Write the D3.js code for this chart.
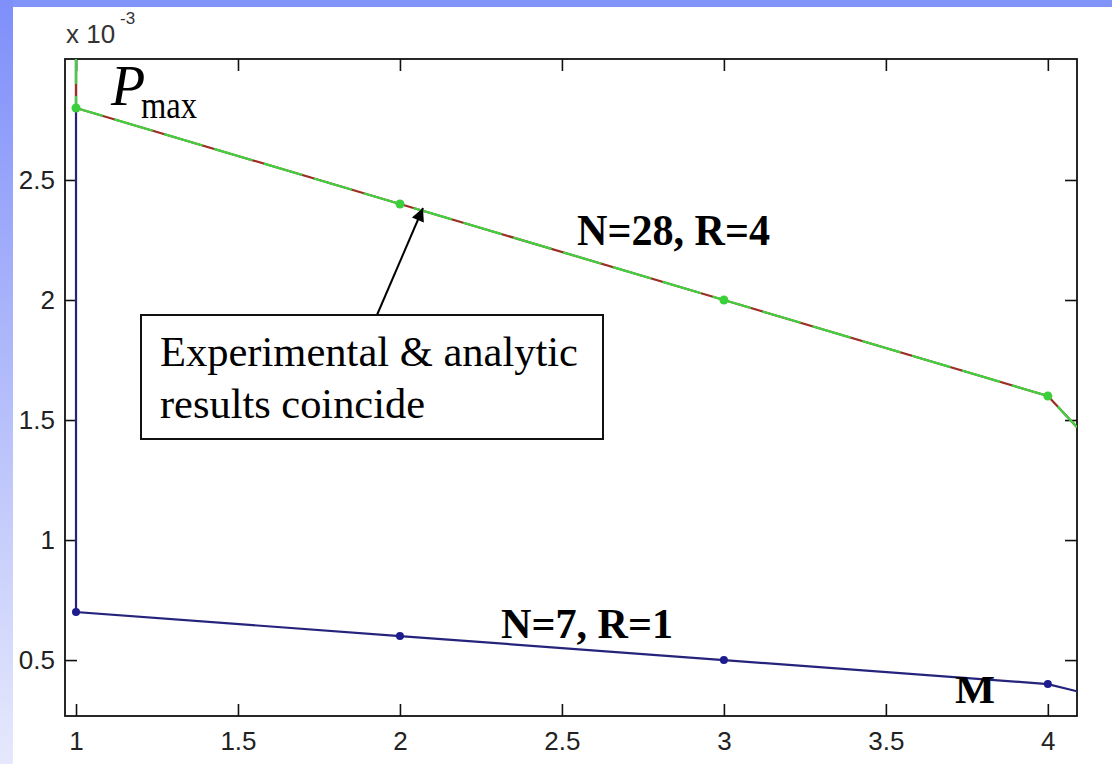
<!DOCTYPE html>
<html>
<head>
<meta charset="utf-8">
<script src="https://cdn.jsdelivr.net/npm/d3@7"></script>
<style>
  html, body { margin: 0; padding: 0; background: #fff; }
  svg { display: block; }
</style>
</head>
<body>
<div id="chart"></div>
<script>
// M values where both series were measured
const mValues = [1, 2, 3, 4];
// P_max for N=28, R=4 (experimental, analytic coincides)
const pN28 = [2.8e-3, 2.4e-3, 2.0e-3, 1.6e-3];
// P_max for N=7, R=1
const pN7 = [0.7e-3, 0.6e-3, 0.5e-3, 0.4e-3];
// where the curves leave the plot on the right edge
const tailM = 4.09;
const tailN28 = 1.47e-3;
const tailN7 = 0.37e-3;
// lead-in value at M=1 (off the top of the axes)
const leadIn = 3.5e-3;

const xTicks = [1, 1.5, 2, 2.5, 3, 3.5, 4];
const yTicks = [0.5e-3, 1e-3, 1.5e-3, 2e-3, 2.5e-3];

const width = 1112, height = 764;
const box = { left: 65, top: 59, right: 1077, bottom: 716 };

const svg = d3.select("#chart").append("svg")
    .attr("width", width)
    .attr("height", height);

const defs = svg.append("defs");
const grad = defs.append("linearGradient")
    .attr("id", "sideGrad")
    .attr("x1", 0).attr("y1", 0).attr("x2", 0).attr("y2", 1);
grad.append("stop").attr("offset", "0%").attr("stop-color", "#7e8ffa");
grad.append("stop").attr("offset", "100%").attr("stop-color", "#e6e9fc");

defs.append("clipPath").attr("id", "plotClip")
  .append("rect")
    .attr("x", box.left).attr("y", box.top)
    .attr("width", box.right - box.left)
    .attr("height", box.bottom - box.top);

defs.append("marker")
    .attr("id", "arrowHead")
    .attr("viewBox", "0 0 10 10")
    .attr("refX", 10).attr("refY", 5)
    .attr("markerWidth", 18).attr("markerHeight", 13)
    .attr("markerUnits", "userSpaceOnUse")
    .attr("orient", "auto")
  .append("path")
    .attr("d", "M0,0 L10,5 L0,10 z")
    .attr("fill", "#000");

// slide background
svg.append("rect").attr("width", width).attr("height", height).attr("fill", "#fff");
svg.append("rect").attr("width", width).attr("height", 7).attr("fill", "#8194fa");
svg.append("rect").attr("width", 13).attr("height", height).attr("fill", "url(#sideGrad)");

const x = d3.scaleLinear().domain([0.966, 4.09]).range([box.left, box.right]);
const y = d3.scaleLinear().domain([0.267e-3, 3.004e-3]).range([box.bottom, box.top]);

const tickFont = "'Liberation Sans', Arial, sans-serif";

// axes with inward ticks
const gx = svg.append("g")
    .attr("transform", `translate(0,${box.bottom})`)
    .call(d3.axisBottom(x).tickValues(xTicks).tickSize(-12).tickPadding(16)
        .tickFormat(d3.format("")));
const gy = svg.append("g")
    .attr("transform", `translate(${box.left},0)`)
    .call(d3.axisLeft(y).tickValues(yTicks).tickSize(-12).tickPadding(10)
        .tickFormat(d => d3.format("")(+(d * 1000).toFixed(1))));
const gt = svg.append("g")
    .attr("transform", `translate(0,${box.top})`)
    .call(d3.axisTop(x).tickValues(xTicks).tickSize(-12).tickFormat(""));
const gr = svg.append("g")
    .attr("transform", `translate(${box.right},0)`)
    .call(d3.axisRight(y).tickValues(yTicks).tickSize(-12).tickFormat(""));

[gx, gy, gt, gr].forEach(g => {
    g.select(".domain").remove();
    g.selectAll(".tick line").attr("stroke", "#111").attr("stroke-width", 1.6);
    g.selectAll(".tick text")
        .attr("fill", "#222")
        .style("font-family", tickFont)
        .style("font-size", "26px");
});

svg.append("rect")
    .attr("x", box.left).attr("y", box.top)
    .attr("width", box.right - box.left)
    .attr("height", box.bottom - box.top)
    .attr("fill", "none")
    .attr("stroke", "#111")
    .attr("stroke-width", 1.8);

// exponent label
const expo = svg.append("text")
    .attr("fill", "#333")
    .style("font-family", tickFont);
expo.append("tspan").attr("x", 66).attr("y", 43).style("font-size", "26px").text("x 10");
expo.append("tspan").attr("x", 120).attr("y", 24).style("font-size", "17px").text("-3");

// series
const plot = svg.append("g").attr("clip-path", "url(#plotClip)");

const line = d3.line().x(d => x(d[0])).y(d => y(d[1]));

const seriesN7 = [[mValues[0], leadIn]]
    .concat(mValues.map((m, i) => [m, pN7[i]]))
    .concat([[tailM, tailN7]]);
const seriesN28 = [[mValues[0], leadIn]]
    .concat(mValues.map((m, i) => [m, pN28[i]]))
    .concat([[tailM, tailN28]]);

plot.append("path")
    .datum(seriesN7)
    .attr("d", line)
    .attr("fill", "none")
    .attr("stroke", "#25237c")
    .attr("stroke-width", 2.2);

// analytic (red) under experimental (green)
plot.append("path")
    .datum(seriesN28)
    .attr("d", line)
    .attr("fill", "none")
    .attr("stroke", "#9c2e26")
    .attr("stroke-width", 2.2);

plot.append("path")
    .datum(seriesN28)
    .attr("d", line)
    .attr("fill", "none")
    .attr("stroke", "#3fd23f")
    .attr("stroke-width", 2.2)
    .attr("stroke-dasharray", "40,12");

plot.selectAll(".dotN7")
    .data(mValues)
    .enter().append("circle")
    .attr("class", "dotN7")
    .attr("cx", d => x(d))
    .attr("cy", (d, i) => y(pN7[i]))
    .attr("r", 4)
    .attr("fill", "#1c1c8c");

plot.selectAll(".dotN28")
    .data(mValues)
    .enter().append("circle")
    .attr("class", "dotN28")
    .attr("cx", d => x(d))
    .attr("cy", (d, i) => y(pN28[i]))
    .attr("r", 4.5)
    .attr("fill", "#3ccf3c");

// annotations
const serif = "'Liberation Serif', 'Times New Roman', serif";

const pLabel = svg.append("text")
    .attr("fill", "#000")
    .style("font-family", serif);
pLabel.append("tspan").attr("x", 111).attr("y", 105)
    .style("font-style", "italic").style("font-size", "56px").text("P");
pLabel.append("tspan").attr("x", 141).attr("y", 118)
    .style("font-size", "37px")
    .attr("textLength", 56).attr("lengthAdjust", "spacingAndGlyphs")
    .text("max");

function boldLabel(txt, px, py, size, len) {
    svg.append("text")
        .attr("x", px).attr("y", py)
        .attr("textLength", len).attr("lengthAdjust", "spacingAndGlyphs")
        .style("font-family", serif).style("font-weight", "bold").style("font-size", size + "px")
        .text(txt);
}
boldLabel("N=28, R=4", 577, 245, 44, 193);
boldLabel("N=7, R=1", 501, 638, 43, 172);
boldLabel("M", 955, 703, 41, 40);

svg.append("line")
    .attr("x1", 377).attr("y1", 315)
    .attr("x2", 423).attr("y2", 208)
    .attr("stroke", "#000")
    .attr("stroke-width", 2)
    .attr("marker-end", "url(#arrowHead)");

svg.append("rect")
    .attr("x", 141).attr("y", 315)
    .attr("width", 462).attr("height", 124)
    .attr("fill", "#fff")
    .attr("stroke", "#111")
    .attr("stroke-width", 2);

const note = svg.append("text")
    .style("font-family", serif).style("font-size", "42px").attr("fill", "#000");
note.append("tspan").attr("x", 160).attr("y", 366)
    .attr("textLength", 418).attr("lengthAdjust", "spacingAndGlyphs")
    .text("Experimental & analytic");
note.append("tspan").attr("x", 160).attr("y", 418)
    .attr("textLength", 265).attr("lengthAdjust", "spacingAndGlyphs")
    .text("results coincide");
</script>
</body>
</html>
